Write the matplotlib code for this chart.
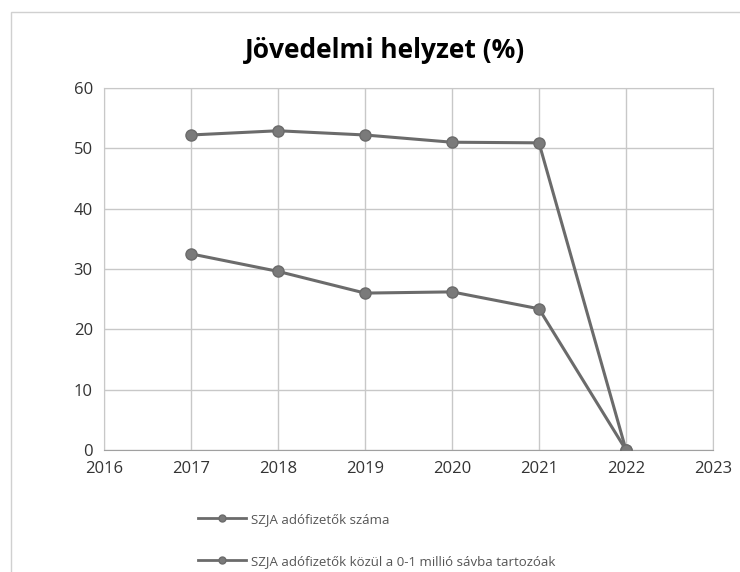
import matplotlib.pyplot as plt
from matplotlib.lines import Line2D

years = [2017, 2018, 2019, 2020, 2021, 2022]
szja_szama = [52.2, 52.9, 52.2, 51.0, 50.9, 0]
szja_0_1 = [32.5, 29.6, 26.0, 26.2, 23.4, 0]
labels = ["SZJA adófizetők száma", "SZJA adófizetők közül a 0-1 millió sávba tartozóak"]
xticks = [2016, 2017, 2018, 2019, 2020, 2021, 2022, 2023]
yticks = [0, 10, 20, 30, 40, 50, 60]

plt.rcParams['font.family'] = ['Open Sans', 'DejaVu Sans']
line_col = '#6b6b6b'
mark_col = '#7a7a7a'

fig = plt.figure(figsize=(7.4, 5.72), dpi=100)
ax = fig.add_axes([0.1405, 0.2133, 0.823, 0.633])

for vals in (szja_szama, szja_0_1):
    ax.plot(years, vals, color=line_col, lw=2.2, marker='o', ms=8,
            markerfacecolor=mark_col, markeredgecolor=line_col, zorder=3)

ax.set_xlim(2016, 2023)
ax.set_ylim(0, 60)
ax.set_xticks(xticks)
ax.set_yticks(yticks)
ax.grid(True, color='#c8c8c8', lw=1)
for s in ax.spines.values():
    s.set_color('#c8c8c8')
ax.spines['bottom'].set_color('#a0a0a0')
ax.tick_params(length=0, labelsize=12, colors='#333333', pad=8)

# title sits a bit left of the plot centre, as in the chart
fig.text(0.52, 0.912, "Jövedelmi helyzet (%)", fontsize=19, fontweight='bold',
         ha='center', va='center')

handles = [Line2D([], [], color=line_col, lw=2, marker='o', ms=5,
                  markerfacecolor=mark_col, markeredgecolor=line_col) for _ in labels]
fig.legend(handles, labels, loc='upper left', bbox_to_anchor=(0.252, 0.124),
           frameon=False, fontsize=9.5, labelcolor='#555555', handlelength=3.6,
           labelspacing=2.2, handletextpad=0.4)

# outer chart border (right and bottom edges fall outside the scan)
fig.patches.append(plt.Rectangle((0.015, -0.05), 1.1, 1.029, transform=fig.transFigure,
                                 fill=False, ec='#d0d0d0', lw=1))

fig.savefig('out.png', dpi=100)
